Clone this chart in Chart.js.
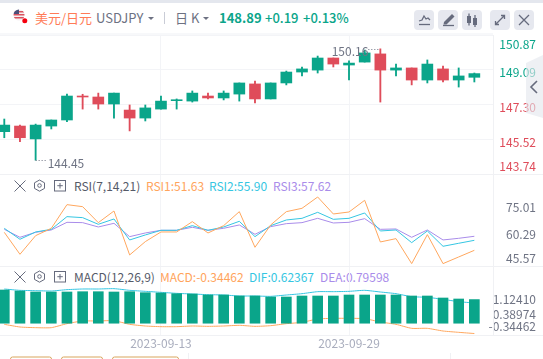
<!DOCTYPE html>
<html>
<head>
<meta charset="utf-8">
<script src="https://cdn.jsdelivr.net/npm/chart.js@4/dist/chart.umd.min.js"></script>
<style>
  html, body { margin: 0; padding: 0; background: #fff; overflow: hidden; }
  #page { position: relative; width: 543px; height: 359px; overflow: hidden; font-family: "Noto Sans CJK SC", "Noto Sans", sans-serif; }
  canvas { position: absolute; left: 0; }
  .t { position: absolute; white-space: nowrap; font-size: 12px; line-height: 16px; }
  .line { position: absolute; background: #f0f1f4; }
  .btn { position: absolute; top: 10px; width: 20px; height: 20px; background: #e6e8ef; border-radius: 4px; }
  svg { position: absolute; overflow: visible; }
</style>
</head>
<body>
<div id="page">
  <div class="line" style="left:0;top:0;width:543px;height:3px;background:#e4e7ee"></div>
  <div class="line" style="left:0;top:33px;width:493px;height:2px;background:#f7f8fa"></div>

  <svg style="left:0;top:0" width="40" height="30">
    <clipPath id="fc"><circle cx="19" cy="15" r="5.5"/></clipPath>
    <g clip-path="url(#fc)">
      <rect x="13" y="9" width="12" height="12" fill="#f4f0f2"/>
      <rect x="13" y="11" width="12" height="1.5" fill="#d9535f"/>
      <rect x="13" y="14" width="12" height="1.5" fill="#d9535f"/>
      <rect x="13" y="17" width="12" height="1.5" fill="#d9535f"/>
      <rect x="13" y="9" width="6" height="5" fill="#4a4f7a"/>
    </g>
    <circle cx="24.8" cy="20.8" r="2.5" fill="#f5000f"/>
  </svg>
  <span class="t" style="left:35px;top:8px;font-size:13px;line-height:19px;color:#ff7b57">美元/日元</span>
  <span class="t" style="left:96px;top:8px;font-size:13px;line-height:19px;color:#6d7182">USDJPY</span>
  <svg style="left:0;top:0" width="220" height="30">
    <path d="M148 17h6l-3 3z" fill="#6d7182"/>
    <path d="M203 17h6l-3 3z" fill="#6d7182"/>
    <rect x="164" y="12" width="1" height="12" fill="#c9ccd6"/>
  </svg>
  <span class="t" style="left:175px;top:8px;font-size:13px;line-height:19px;color:#6d7182">日 K</span>
  <span class="t" style="left:219px;top:8px;font-size:13px;line-height:19px;font-weight:700;color:#0aa58a">148.89</span>
  <span class="t" style="left:265px;top:8px;font-size:13px;line-height:19px;font-weight:500;color:#0aa58a">+0.19</span>
  <span class="t" style="left:303px;top:8px;font-size:13px;line-height:19px;font-weight:500;color:#0aa58a">+0.13%</span>

  <div class="btn" style="left:414px"></div>
  <div class="btn" style="left:438px"></div>
  <div class="btn" style="left:462px"></div>
  <div class="btn" style="left:490px"></div>
  <div class="btn" style="left:514px"></div>
  <svg style="left:0;top:0" width="543" height="40" fill="none" stroke="#666b7d" stroke-width="1.3">
    <path d="M419 21l3-1 2-4 2 3 2-1 2 2"/><path d="M419 24.500h11"/>
    <path d="M444 22l8-8 2.500 2.500-8 8h-3z" fill="#666b7d" stroke="none"/><path d="M443 25.500h11"/>
    <rect x="467" y="16" width="4" height="7" fill="#666b7d" stroke="none"/><rect x="473" y="18" width="4" height="7" fill="#666b7d" stroke="none"/>
    <path d="M469 13.500v12M475 15v12"/>
    <path d="M496 24l8-8M501 15.500h3.500v3.500M495.500 21v3.500h3.500"/>
    <path d="M519 15l10 10M529 15l-10 10"/>
  </svg>

  <svg style="left:0;top:175px" width="80" height="110" fill="none" stroke="#666b7d" stroke-width="1">
    <g>
      <path d="M14.500 5.500l11 11M25.500 5.500l-11 11"/>
      <path d="M39.500 5l5 2.800v5.600l-5 2.800-5-2.800v-5.600z"/><circle cx="39.500" cy="10.500" r="1.800"/>
      <rect x="54.500" y="5.500" width="11" height="10.500"/><path d="M60 8v5.500M57.300 10.700h5.500"/>
    </g>
    <g transform="translate(0,91)">
      <path d="M14.500 5.500l11 11M25.500 5.500l-11 11"/>
      <path d="M39.500 5l5 2.800v5.600l-5 2.800-5-2.800v-5.600z"/><circle cx="39.500" cy="10.500" r="1.800"/>
      <rect x="54.500" y="5.500" width="11" height="10.500"/><path d="M60 8v5.500M57.300 10.700h5.500"/>
    </g>
  </svg>
  <span class="t" style="left:74px;top:177px;line-height:18px;color:#555a68">RSI(7,14,21)</span>
  <span class="t" style="left:146px;top:177px;line-height:18px;color:#ffa45c">RSI1:51.63</span>
  <span class="t" style="left:209px;top:177px;line-height:18px;color:#35c6e2">RSI2:55.90</span>
  <span class="t" style="left:273px;top:177px;line-height:18px;color:#a98cea">RSI3:57.62</span>
  <span class="t" style="left:74px;top:268px;line-height:18px;color:#555a68">MACD(12,26,9)</span>
  <span class="t" style="left:160px;top:268px;line-height:18px;color:#ffa45c">MACD:-0.34462</span>
  <span class="t" style="left:249px;top:268px;line-height:18px;color:#35c6e2">DIF:0.62367</span>
  <span class="t" style="left:320px;top:268px;line-height:18px;color:#a98cea">DEA:0.79598</span>

  <canvas id="priceChart" width="543" height="146" style="top:30px"></canvas>
  <canvas id="rsiChart" width="543" height="92" style="top:174px"></canvas>
  <canvas id="macdChart" width="543" height="93" style="top:266px"></canvas>

  <div class="line" style="left:0;top:174px;width:543px;height:1px"></div>
  <div class="line" style="left:0;top:266px;width:543px;height:1px"></div>
  <div class="line" style="left:0;top:335px;width:543px;height:1px"></div>
  <div class="line" style="left:493px;top:35px;width:1px;height:300px"></div>
  <div class="line" style="left:188px;top:353px;width:1px;height:6px"></div>
  <div class="line" style="left:450px;top:353px;width:1px;height:6px"></div>

  <svg style="left:0;top:340px" width="200" height="19" fill="none" stroke="#d8a55c" stroke-width="1">
    <path d="M10.500 22v-3a2 2 0 0 1 2-2h37a2 2 0 0 1 2 2v3"/>
    <path d="M61.500 22v-3a2 2 0 0 1 2-2h37a2 2 0 0 1 2 2v3"/>
    <path d="M112.500 22v-3a2 2 0 0 1 2-2h62a2 2 0 0 1 2 2v3"/>
  </svg>

  <svg style="left:0;top:0" width="543" height="130">
    <path d="M526 63L543 55V118L526 113Z" fill="#e4e6ee" fill-opacity="0.62"/>
    <path d="M537 81l-6 6 6 6" fill="none" stroke="#666b7d" stroke-width="1.600"/>
  </svg>
</div>

<script>
// category dates, one per candle
const dates = ['2023-08-30','2023-08-31','2023-09-01','2023-09-04','2023-09-05','2023-09-06','2023-09-07','2023-09-08','2023-09-11','2023-09-12','2023-09-13','2023-09-14','2023-09-15','2023-09-18','2023-09-19','2023-09-20','2023-09-21','2023-09-22','2023-09-25','2023-09-26','2023-09-27','2023-09-28','2023-09-29','2023-10-02','2023-10-03','2023-10-04','2023-10-05','2023-10-06','2023-10-09','2023-10-10','2023-10-11'];

const opens  = [145.91,146.20,145.54,146.20,146.51,147.74,147.69,147.33,147.02,146.61,147.07,147.50,147.48,147.74,147.64,147.84,148.36,147.59,148.41,148.97,149.07,149.69,149.33,149.48,149.90,149.07,149.18,148.56,149.13,148.56,148.70];
const closes = [146.25,145.60,146.25,146.51,147.74,147.69,147.33,147.89,146.61,147.13,147.48,147.55,147.89,147.64,147.89,148.41,147.59,148.41,148.97,149.13,149.69,149.38,149.43,149.95,149.07,149.18,148.56,149.38,148.56,148.77,148.89];
const highs  = [146.56,146.25,146.30,146.51,147.84,147.83,147.89,147.89,147.28,147.28,147.74,147.59,148.00,147.89,148.00,148.41,148.51,148.41,149.02,149.23,149.79,149.69,149.54,150.10,150.16,149.38,149.18,149.59,149.28,149.18,148.92];
const lows   = [145.60,145.40,144.45,146.05,146.42,147.07,147.07,146.61,145.95,146.46,147.07,147.07,147.43,147.59,147.54,147.48,147.38,147.59,148.31,148.77,148.92,149.23,148.56,149.48,147.43,148.77,148.31,148.41,148.46,148.20,148.46];

const rsi1 = [59.32,49.93,57.90,61.03,71.14,70.28,63.45,68.43,49.65,55.34,59.47,59.47,63.88,59.04,62.17,68.15,52.92,62.46,68.15,69.57,74.41,67.15,68.00,72.99,55.20,56.62,45.95,58.33,45.95,48.79,51.63];
const rsi2 = [61.03,56.34,59.47,60.60,66.01,65.59,62.74,65.02,56.05,58.19,60.18,60.18,62.17,60.18,61.60,64.02,57.47,62.17,64.59,65.30,67.86,64.87,65.30,67.58,59.89,60.32,54.91,59.89,53.35,54.63,55.90];
const rsi3 = [60.60,57.19,59.32,60.32,63.59,63.45,61.60,63.17,57.47,59.04,60.18,60.18,61.46,60.18,61.03,62.46,58.47,61.74,63.02,63.45,65.30,63.31,63.59,65.16,60.60,60.75,57.19,60.32,56.05,56.76,57.62];

const macdLine = [-0.037,-0.125,-0.147,-0.147,-0.015,0.073,0.073,0.084,-0.037,-0.092,-0.114,-0.114,-0.092,-0.103,-0.092,-0.070,-0.103,-0.081,-0.015,0.029,0.139,0.161,0.161,0.150,0.040,-0.037,-0.169,-0.169,-0.257,-0.301,-0.34];
const difLine  = [1.129,1.085,1.074,1.063,1.107,1.129,1.129,1.140,1.085,1.052,1.019,0.986,0.964,0.942,0.931,0.898,0.898,0.887,0.931,0.975,1.041,1.041,1.052,1.085,1.030,0.975,0.876,0.854,0.788,0.711,0.667];
const deaBars  = [1.096,1.063,1.030,1.030,1.030,1.040,1.040,1.030,1.040,1.007,0.997,0.974,0.964,0.931,0.931,0.898,0.898,0.865,0.865,0.898,0.898,0.898,0.931,0.931,0.931,0.931,0.898,0.898,0.832,0.799,0.780];

// axis tick labels
const priceTicks = [150.87, 149.09, 147.30, 145.52, 143.74];
const rsiTicks = [75.01, 60.29, 45.57];
const macdTicks = [1.12410, 0.38974, -0.34462];
const dateTicks = [10, 22];

const GREEN = '#0aa58a';
const RED = '#df4c5a';
const GRAY = '#6f7484';
const GRID = '#f3f4f7';
const FONT = '"Noto Sans CJK SC", "Noto Sans", sans-serif';

const points = arr => arr.map((y, x) => ({ x, y }));

// draws the right hand labels, the real ones sit off their tick so they fit in the pane
const sideLabels = {
  id: 'sideLabels',
  afterDraw(chart, args, opts) {
    const ctx = chart.ctx;
    const yScale = chart.scales.y;
    ctx.save();
    ctx.font = '12px ' + FONT;
    ctx.textAlign = 'right';
    ctx.textBaseline = 'middle';
    yScale.ticks.forEach((t, i) => {
      ctx.fillStyle = opts.colors ? opts.colors[i] : GRAY;
      ctx.fillText(t.value.toFixed(opts.digits), 536, yScale.getPixelForValue(t.value) + opts.shift[i]);
    });
    ctx.restore();
  }
};

// high and low callouts on the candles
const extremeLabels = {
  id: 'extremeLabels',
  afterDatasetsDraw(chart) {
    const ctx = chart.ctx;
    const x = chart.scales.x;
    const y = chart.scales.y;
    const hi = highs.indexOf(Math.max(...highs));
    const lo = lows.indexOf(Math.min(...lows));
    ctx.save();
    ctx.font = '12px ' + FONT;
    ctx.fillStyle = GRAY;
    ctx.strokeStyle = GRAY;
    ctx.lineWidth = 1;
    ctx.setLineDash([1, 2]);
    ctx.textBaseline = 'middle';

    const hx = x.getPixelForValue(hi);
    const hy = y.getPixelForValue(highs[hi]);
    ctx.beginPath();
    ctx.moveTo(hx - 12, Math.round(hy) + 0.5);
    ctx.lineTo(hx, Math.round(hy) + 0.5);
    ctx.stroke();
    ctx.textAlign = 'right';
    ctx.fillText(highs[hi].toFixed(2), hx - 12, hy + 3);

    const lx = x.getPixelForValue(lo);
    const ly = y.getPixelForValue(lows[lo]);
    ctx.beginPath();
    ctx.moveTo(lx, Math.round(ly) + 0.5);
    ctx.lineTo(lx + 11, Math.round(ly) + 0.5);
    ctx.stroke();
    ctx.textAlign = 'left';
    ctx.fillText(lows[lo].toFixed(2), lx + 12, ly + 3);
    ctx.restore();
  }
};

function xAxis(showDates) {
  return {
    type: 'linear',
    offset: false,
    min: -0.274,
    max: 31.19,
    afterBuildTicks: s => { s.ticks = dateTicks.map(value => ({ value })); },
    afterFit: s => { s.height = showDates ? 24 : 0; },
    border: { display: false },
    grid: { color: GRID, offset: false, drawTicks: false },
    ticks: {
      display: showDates,
      autoSkip: false,
      maxRotation: 0,
      padding: 1,
      color: '#a9adbd',
      font: { family: FONT, size: 12 },
      callback: v => dates[v]
    }
  };
}

function yAxis(tickValues, min, max, showGrid) {
  return {
    position: 'right',
    min,
    max,
    afterBuildTicks: s => { s.ticks = tickValues.map(value => ({ value })); },
    afterFit: s => { s.width = 50; },
    border: { display: false },
    grid: { display: showGrid, color: GRID, drawTicks: false },
    ticks: { display: false }
  };
}

const baseOptions = { responsive: false, animation: false, events: [] };

new Chart(document.getElementById('priceChart'), {
  type: 'bar',
  data: {
    datasets: [
      {
        label: 'body',
        data: dates.map((d, i) => ({ x: i, y: [opens[i], closes[i]] })),
        backgroundColor: closes.map((c, i) => c >= opens[i] ? GREEN : RED),
        barThickness: 11,
        grouped: false
      },
      {
        label: 'wick',
        data: dates.map((d, i) => ({ x: i, y: [lows[i], highs[i]] })),
        backgroundColor: closes.map((c, i) => c >= opens[i] ? GREEN : RED),
        barThickness: 1.2,
        grouped: false
      }
    ]
  },
  options: {
    ...baseOptions,
    layout: { padding: { top: 5, bottom: 2 } },
    scales: { x: xAxis(false), y: yAxis(priceTicks, 143.74, 150.87, true) },
    plugins: {
      legend: { display: false },
      tooltip: { enabled: false },
      sideLabels: { digits: 2, shift: [9, 2.4, 2.4, 3.4, -7.3], colors: [GREEN, GREEN, RED, RED, RED] }
    }
  },
  plugins: [sideLabels, extremeLabels]
});

function rsiSet(label, values, color) {
  return { label, data: points(values), borderColor: color, borderWidth: 1, pointRadius: 0, tension: 0 };
}

new Chart(document.getElementById('rsiChart'), {
  type: 'line',
  data: {
    datasets: [
      rsiSet('RSI1', rsi1, '#ffa75e'),
      rsiSet('RSI2', rsi2, '#35c6e2'),
      rsiSet('RSI3', rsi3, '#a98cea')
    ]
  },
  options: {
    ...baseOptions,
    scales: { x: xAxis(false), y: yAxis(rsiTicks, 44.93, 84.23, false) },
    plugins: {
      legend: { display: false },
      tooltip: { enabled: false },
      sideLabels: { digits: 2, shift: [12, 4, -6.5] }
    }
  },
  plugins: [sideLabels]
});

new Chart(document.getElementById('macdChart'), {
  type: 'bar',
  data: {
    datasets: [
      { label: 'DEA', data: points(deaBars), backgroundColor: GREEN, barThickness: 10, grouped: false, order: 1 },
      { type: 'line', label: 'MACD', data: points(macdLine), borderColor: '#ffa75e', borderWidth: 1, pointRadius: 0, tension: 0.2, order: 2 },
      { type: 'line', label: 'DIF', data: points(difLine), borderColor: '#35c6e2', borderWidth: 1, pointRadius: 0, tension: 0.2, order: 2 }
    ]
  },
  options: {
    ...baseOptions,
    scales: { x: xAxis(true), y: yAxis(macdTicks, -0.389, 1.888, false) },
    plugins: {
      legend: { display: false },
      tooltip: { enabled: false },
      sideLabels: { digits: 5, shift: [10, 2.6, -7.3] }
    }
  },
  plugins: [sideLabels]
});
</script>
</body>
</html>
